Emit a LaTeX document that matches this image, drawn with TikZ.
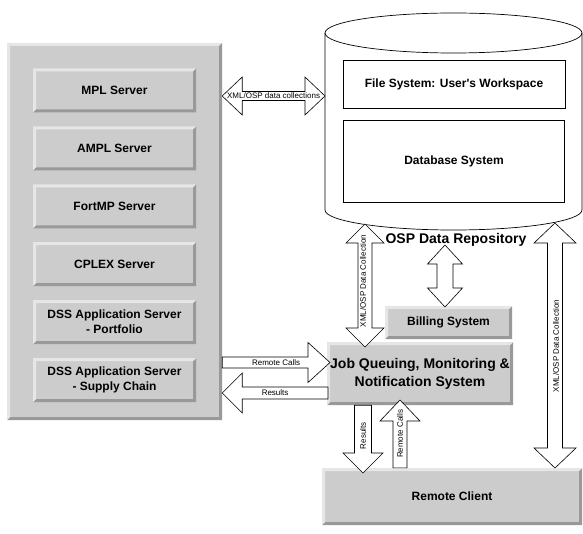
\documentclass[tikz,border=0pt]{standalone}
\usepackage{fontspec}
\setmainfont{Liberation Sans}
\usepackage{xcolor}
\usepackage{tikz}
\usetikzlibrary{positioning, calc}

\definecolor{boxgray}{HTML}{CCCCCC}
\definecolor{bevdark}{HTML}{999999}
\definecolor{bevlight}{HTML}{E6E6E6}

\tikzstyle{bevel} = [rectangle, fill=boxgray, align=center, inner sep=0pt,
  font=\bfseries\fontsize{12}{15}\selectfont,
  path picture={
    \fill[bevdark] (path picture bounding box.south west) -- (path picture bounding box.south east)
      -- (path picture bounding box.north east) -- ([shift={(-3pt,-3pt)}]path picture bounding box.north east)
      -- ([shift={(-3pt,3pt)}]path picture bounding box.south east) -- ([shift={(3pt,3pt)}]path picture bounding box.south west) -- cycle;
    \fill[bevlight] (path picture bounding box.south west) -- (path picture bounding box.north west)
      -- (path picture bounding box.north east) -- ([shift={(-3pt,-3pt)}]path picture bounding box.north east)
      -- ([shift={(3pt,-3pt)}]path picture bounding box.north west) -- ([shift={(3pt,3pt)}]path picture bounding box.south west) -- cycle;
  }]
\tikzstyle{srvbox} = [bevel, minimum width=163pt, minimum height=44pt]
\tikzstyle{plainbox} = [rectangle, draw=black, line width=0.7pt, fill=white, align=center, font=\bfseries\fontsize{12}{15}\selectfont]
\tikzstyle{blockarrow} = [draw=black, line width=0.6pt, fill=white, line join=miter]
\tikzstyle{lbl} = [inner sep=0pt, font=\fontsize{8}{9}\selectfont]

% block arrows: from, to, half shaft, half head, head length
\newcommand{\dblarrow}[5]{%
  \draw[blockarrow] (#1) -- ($(#1)!#5!(#2)!#4!90:(#2)$) -- ($(#1)!#5!(#2)!#3!90:(#2)$)
    -- ($(#2)!#5!(#1)!#3!-90:(#1)$) -- ($(#2)!#5!(#1)!#4!-90:(#1)$) -- (#2)
    -- ($(#2)!#5!(#1)!#4!90:(#1)$) -- ($(#2)!#5!(#1)!#3!90:(#1)$)
    -- ($(#1)!#5!(#2)!#3!-90:(#2)$) -- ($(#1)!#5!(#2)!#4!-90:(#2)$) -- cycle;}
\newcommand{\sglarrow}[5]{%
  \draw[blockarrow] ($(#1)!#3!90:(#2)$) -- ($(#2)!#5!(#1)!#3!-90:(#1)$) -- ($(#2)!#5!(#1)!#4!-90:(#1)$)
    -- (#2) -- ($(#2)!#5!(#1)!#4!90:(#1)$) -- ($(#2)!#5!(#1)!#3!90:(#1)$) -- ($(#1)!#3!-90:(#2)$) -- cycle;}

\begin{document}
\begin{tikzpicture}[x=1pt, y=-1pt, node distance=13.5pt]
        \useasboundingbox (0,0) rectangle (583,534);

        % Servers
        \node (panel) [bevel, minimum width=215pt, minimum height=377pt] at (114.5,231.5) {};
        \node (mpl) [srvbox] at (114.5,90.5) {MPL Server};
        \node (ampl) [srvbox, below=of mpl] {AMPL Server};
        \node (fortmp) [srvbox, below=of ampl] {FortMP Server};
        \node (cplex) [srvbox, below=of fortmp] {CPLEX Server};
        \node (dssport) [srvbox, below=of cplex] {DSS Application Server\\- Portfolio};
        \node (dsssupply) [srvbox, below=of dssport] {DSS Application Server\\- Supply Chain};

        % Repository
        \draw[line width=0.7pt, fill=white] (325,33) -- (325,210) arc[start angle=180, end angle=0, x radius=128.5, y radius=20] -- (582,33);
        \draw[line width=0.7pt] (453.5,33) ellipse [x radius=128.5, y radius=20];
        \node (filesys) [plainbox, minimum width=222pt, minimum height=48pt] at (454,84) {File System: User\textquotesingle s Workspace};
        \node (dbsys) [plainbox, minimum width=221pt, minimum height=82pt, below=12pt of filesys] {Database System};
        \node (repo) [font=\bfseries\fontsize{14}{16}\selectfont, inner sep=0pt] at (456,240) {OSP Data Repository};

        % Job system and client
        \node (billing) [bevel, minimum width=127pt, minimum height=33pt] at (448.5,322.5) {Billing System};
        \node (jobq) [bevel, font=\bfseries\fontsize{14}{18}\selectfont, minimum width=186pt, minimum height=63pt] at (420,373.5) {Job Queuing, Monitoring \&\\Notification System};
        \node (client) [bevel, minimum width=260pt, minimum height=57pt] at (452,496.5) {Remote Client};

        % Arrow ends
        \coordinate (xmlA) at (panel.east |- 0,96);
        \coordinate (xmlB) at (325,96);
        \coordinate (repoL) at (365,224);
        \coordinate (jobL) at (365,347);
        \coordinate (repoM) at (445,245);
        \coordinate (billM) at (445,307);
        \coordinate (repoR) at (555,223);
        \coordinate (clientR) at (555,468);
        \coordinate (callA) at (panel.east |- 0,362.5);
        \coordinate (callB) at (330,362.5);
        \coordinate (resA) at (328,393);
        \coordinate (resB) at (panel.east |- 0,393);
        \coordinate (downA) at (jobq.south -| 363,0);
        \coordinate (downB) at (363,473);
        \coordinate (upA) at (client.north -| 400,0);
        \coordinate (upB) at (400,400);

        % Data flows
        \dblarrow{xmlA}{xmlB}{4.5pt}{19pt}{20pt}
        \dblarrow{repoL}{jobL}{7pt}{19pt}{19pt}
        \dblarrow{repoM}{billM}{8pt}{17.5pt}{19pt}
        \dblarrow{repoR}{clientR}{7.5pt}{21pt}{20pt}
        \sglarrow{callA}{callB}{5.5pt}{20pt}{22pt}
        \sglarrow{resA}{resB}{6pt}{20pt}{20pt}
        \sglarrow{downA}{downB}{8.5pt}{20pt}{20pt}
        \sglarrow{upA}{upB}{7pt}{20pt}{21pt}

        % Arrow labels
        \node (xmllbl) [lbl] at ($(xmlA)!.5!(xmlB)$) {XML/OSP data collections};
        \node (jobxml) [lbl, rotate=90] at (363,281) {XML/OSP Data Collection};
        \node (clientxml) [lbl, rotate=90] at (556,346) {XML/OSP Data Collection};
        \node (calllbl) [lbl] at ($(callA)!.5!(callB)$) {Remote Calls};
        \node (reslbl) [lbl] at ($(resA)!.5!(resB)$) {Results};
        \node (downlbl) [lbl, rotate=90] at ($(downA)!.45!(downB)$) {Results};
        \node (uplbl) [lbl, rotate=90] at ($(upA)!.5!(upB)$) {Remote Calls};
    \end{tikzpicture}
\end{document}
